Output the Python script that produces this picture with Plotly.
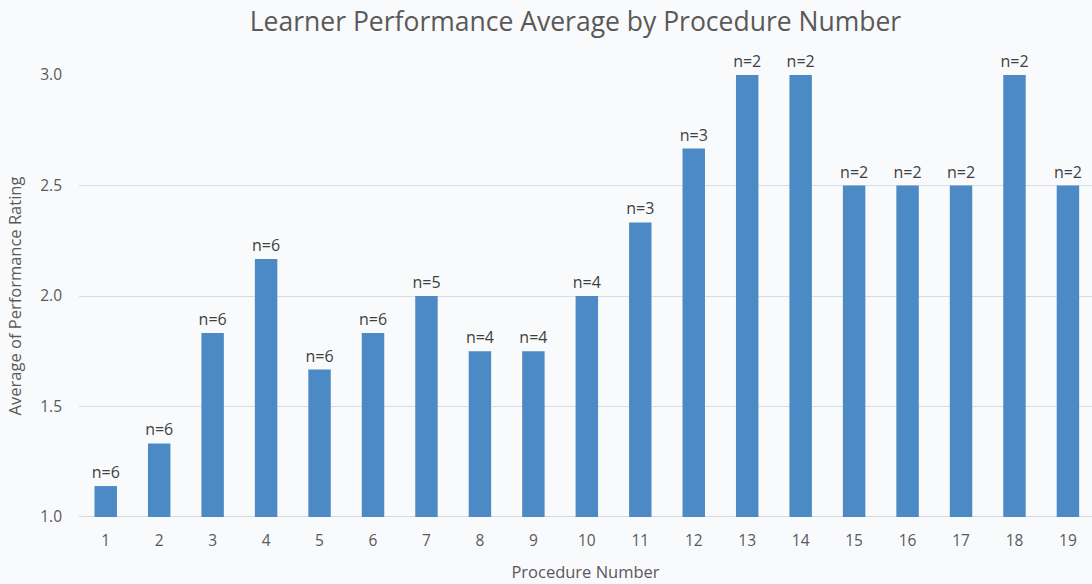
import plotly.graph_objects as go

procedures = [str(i) for i in range(1, 20)]
averages = [1.14, 1.333, 1.833, 2.167, 1.667, 1.833, 2.0, 1.75, 1.75, 2.0,
            2.333, 2.667, 3.0, 3.0, 2.5, 2.5, 2.5, 3.0, 2.5]
counts = [6, 6, 6, 6, 6, 6, 5, 4, 4, 4, 3, 3, 2, 2, 2, 2, 2, 2, 2]
labels = [f"n={c}" for c in counts]

fig = go.Figure(go.Bar(
    x=list(range(1, 20)), y=[a - 1.0 for a in averages], base=1.0,
    text=labels, textposition="outside", cliponaxis=False, constraintext="none",
    textfont=dict(size=16, color="#404040", family="Open Sans"),
    marker=dict(color="#4c8ac6", line=dict(width=0)),
    width=0.42,
))

fig.update_layout(
    width=1092, height=584,
    margin=dict(l=79, r=0, t=75, b=67, autoexpand=False),
    paper_bgcolor="#f9fafc", plot_bgcolor="#f9fafc",
    title=dict(text="Learner Performance Average by Procedure Number",
               x=0.527, xanchor="center", y=0.962, yanchor="middle",
               font=dict(size=26.5, color="#595959", family="Open Sans")),
    showlegend=False,
    font=dict(family="Open Sans", color="#595959"),
)
fig.update_xaxes(
    range=[0.5, 19.45], tickmode="array", tickvals=list(range(1, 20)),
    ticktext=procedures, showgrid=False, zeroline=False, automargin=False,
    tickfont=dict(size=15.5, color="#595959"), ticks="", ticklabelstandoff=12,
    title=dict(text="Procedure Number", font=dict(size=16.5, color="#595959"), standoff=16),
)
fig.update_yaxes(
    range=[1.0, 3.0], tickmode="array", tickvals=[1.0, 1.5, 2.0, 2.5, 3.0],
    ticktext=["1.0", "1.5", "2.0", "2.5", "3.0"], automargin=False,
    showgrid=True, gridcolor="#d9dde3", gridwidth=1, zeroline=False,
    showline=False, ticks="", tickfont=dict(size=15.5, color="#595959"),
    ticklabelstandoff=16,
    title=dict(text="Average of Performance Rating", font=dict(size=16.5, color="#595959"), standoff=14),
)
fig.add_shape(type="line", xref="paper", yref="y", x0=0, x1=1, y0=1.0, y1=1.0,
              line=dict(color="#c8ced6", width=1.5), layer="below")

fig.write_html("out.html", config={"displayModeBar": False},
               post_script="document.body.style.margin='0';document.body.style.background='#f9fafc';")
